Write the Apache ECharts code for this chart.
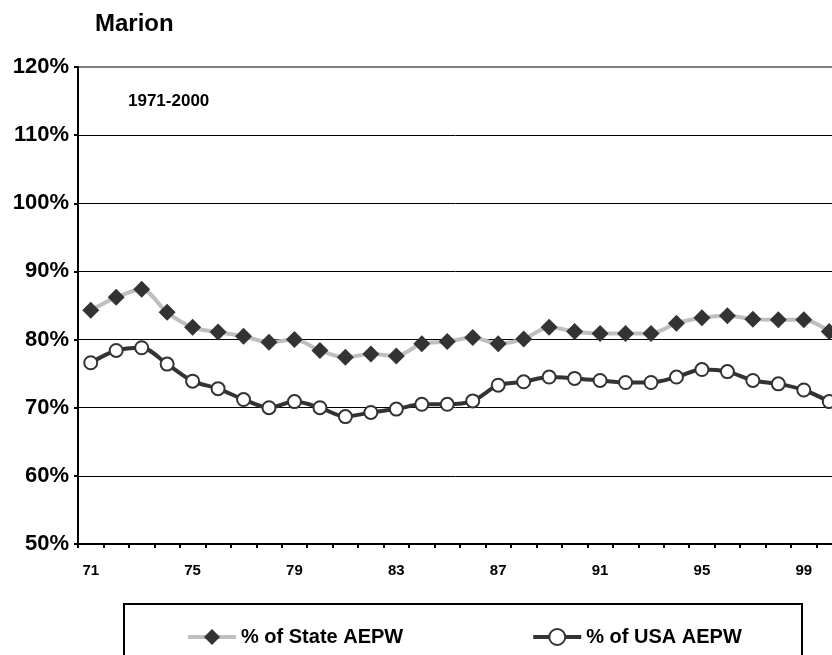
<!DOCTYPE html>
<html>
<head>
<meta charset="utf-8">
<script src="https://cdn.jsdelivr.net/npm/echarts@6/dist/echarts.min.js"></script>
<style>
  html, body { margin: 0; padding: 0; background: #fff; }
  #chart { width: 832px; height: 655px; }
</style>
</head>
<body>
<div id="chart"></div>
<script>
// Years 1971-2000, shown as two-digit labels
const years = ['71','72','73','74','75','76','77','78','79','80',
               '81','82','83','84','85','86','87','88','89','90',
               '91','92','93','94','95','96','97','98','99','00'];

// Average earnings per worker as a share of the state average (%)
const stateShare = [84.3, 86.2, 87.4, 84.0, 81.8, 81.1, 80.5, 79.6, 80.0, 78.4,
                    77.4, 77.9, 77.6, 79.4, 79.7, 80.3, 79.4, 80.1, 81.8, 81.2,
                    80.9, 80.9, 80.9, 82.4, 83.2, 83.5, 83.0, 82.9, 82.9, 81.2];

// Average earnings per worker as a share of the US average (%)
const usaShare = [76.6, 78.4, 78.8, 76.4, 73.9, 72.8, 71.2, 70.0, 70.9, 70.0,
                  68.7, 69.3, 69.8, 70.5, 70.5, 71.0, 73.3, 73.8, 74.5, 74.3,
                  74.0, 73.7, 73.7, 74.5, 75.6, 75.3, 74.0, 73.5, 72.6, 70.9];

const yTicks = { min: 50, max: 120, step: 10 };

const chart = echarts.init(document.getElementById('chart'), null, { renderer: 'canvas' });
const font = 'Liberation Sans, Arial, sans-serif';

chart.setOption({
  animation: false,
  backgroundColor: '#fff',
  textStyle: { fontFamily: font },
  title: {
    text: 'Marion',
    left: 90, top: 7,
    textStyle: { fontFamily: font, fontWeight: 'bold', fontSize: 24, color: '#000' }
  },
  // the plot runs past the right edge of the page, so the last year is half cut off
  grid: {
    left: 78, top: 67, width: 764, bottom: 111,
    outerBoundsMode: 'none',
    show: true, borderColor: '#7f7f7f', borderWidth: 2, backgroundColor: 'transparent'
  },
  graphic: [
    {
      type: 'text', left: 128, top: 93,
      style: { text: '1971-2000', font: 'bold 17px ' + font, fill: '#000' }
    },
    {
      type: 'rect', shape: { x: 124, y: 604, width: 678, height: 90 },
      style: { fill: 'none', stroke: '#000', lineWidth: 2 }, silent: true
    }
  ],
  legend: {
    left: 181, top: 622,
    itemWidth: 48, itemHeight: 20, itemGap: 128,
    lineStyle: { width: 4 },
    textStyle: { fontFamily: font, fontWeight: 'bold', fontSize: 20, color: '#000' },
    data: ['% of State AEPW', '% of USA AEPW']
  },
  xAxis: {
    type: 'category',
    data: years,
    boundaryGap: true,
    axisLine: { lineStyle: { color: '#000', width: 2 } },
    axisTick: { show: true, interval: 0, length: 4, lineStyle: { color: '#000', width: 2 } },
    axisLabel: {
      interval: 3, margin: 19, color: '#000',
      fontFamily: font, fontWeight: 'bold', fontSize: 15
    },
    splitLine: { show: false }
  },
  yAxis: {
    type: 'value',
    min: yTicks.min, max: yTicks.max, interval: yTicks.step,
    axisLine: { show: true, lineStyle: { color: '#000', width: 2 } },
    axisTick: { show: true, length: 4, lineStyle: { color: '#000', width: 2 } },
    axisLabel: {
      margin: 9, color: '#000', padding: [3, 0, 0, 0],
      fontFamily: font, fontWeight: 'bold', fontSize: 22,
      formatter: v => v + '%'
    },
    splitLine: { show: true, showMaxLine: false, lineStyle: { color: '#000', width: 1 } }
  },
  series: [
    {
      name: '% of State AEPW',
      type: 'line',
      data: stateShare,
      smooth: 0.3,
      showAllSymbol: true,
      symbol: 'diamond',
      symbolSize: 17,
      lineStyle: { color: '#bfbfbf', width: 4 },
      itemStyle: { color: '#333333', borderColor: '#333333', borderWidth: 0 },
      z: 2
    },
    {
      name: '% of USA AEPW',
      type: 'line',
      data: usaShare,
      smooth: 0.3,
      showAllSymbol: true,
      symbol: 'circle',
      symbolSize: 13,
      lineStyle: { color: '#333333', width: 4 },
      itemStyle: { color: '#ffffff', borderColor: '#333333', borderWidth: 2 },
      z: 3
    }
  ]
});
</script>
</body>
</html>
